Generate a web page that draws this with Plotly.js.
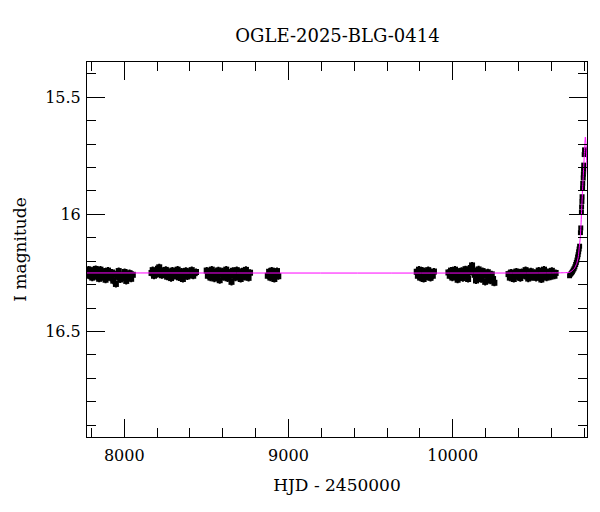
<!DOCTYPE html>
<html>
<head>
<meta charset="utf-8">
<script src="https://cdn.plot.ly/plotly-3.0.1.min.js"></script>
<style>html,body{margin:0;padding:0;background:#fff;} #chart{width:600px;height:512px;}</style>
</head>
<body>
<div id="chart"></div>
<script>
// ---- data (HJD - 2450000, I magnitude) ----
const s1_t = [7776,7782,7786,7792,7799,7805,7812,7818,7826,7833,7840,7847,7855,7862,7870,7878,7886,7893,7901,7909,7917,7925,7933,7941,7949,7957,7966,7975,7984,7993,8002,8012,8022,8032,8042,8052];
const s1_m = [16.250,16.236,16.262,16.238,16.255,16.270,16.242,16.258,16.233,16.266,16.249,16.275,16.236,16.257,16.268,16.244,16.279,16.252,16.240,16.263,16.271,16.248,16.283,16.255,16.297,16.266,16.242,16.278,16.259,16.270,16.246,16.284,16.262,16.251,16.275,16.258];
const s2_t = [8166,8173,8181,8189,8197,8205,8213,8221,8229,8237,8245,8253,8261,8269,8277,8285,8293,8301,8309,8317,8325,8333,8341,8349,8357,8366,8375,8384,8393,8402,8411,8420,8429,8437];
const s2_m = [16.250,16.238,16.262,16.244,16.256,16.232,16.226,16.248,16.260,16.241,16.253,16.237,16.266,16.245,16.258,16.272,16.240,16.255,16.263,16.247,16.236,16.269,16.252,16.244,16.276,16.258,16.241,16.265,16.249,16.256,16.238,16.262,16.251,16.246];
const s3_t = [8502,8509,8517,8525,8533,8541,8549,8557,8565,8573,8581,8589,8597,8605,8613,8621,8629,8637,8645,8653,8661,8669,8677,8685,8693,8701,8709,8717,8725,8733,8741,8749,8757,8766];
const s3_m = [16.240,16.262,16.248,16.270,16.236,16.258,16.274,16.245,16.266,16.239,16.281,16.252,16.243,16.268,16.255,16.236,16.273,16.248,16.262,16.288,16.241,16.257,16.270,16.238,16.264,16.250,16.276,16.243,16.259,16.267,16.237,16.255,16.271,16.249];
const s4_t = [8874,8882,8890,8898,8906,8914,8922,8930,8938];
const s4_m = [16.262,16.245,16.270,16.240,16.258,16.276,16.250,16.242,16.264];
const s5_t = [9781,9788,9795,9802,9809,9816,9823,9830,9837,9844,9851,9858,9865,9872,9879,9886];
const s5_m = [16.245,16.262,16.236,16.270,16.253,16.240,16.276,16.258,16.246,16.266,16.238,16.259,16.271,16.249,16.262,16.244];
const s6_t = [9974,9982,9990,9998,10006,10014,10022,10030,10038,10046,10054,10062,10070,10078,10086,10094,10102,10110,10118,10126,10134,10142,10150,10158,10166,10174,10182,10190,10198,10206,10214,10222,10230,10238,10246,10254];
const s6_m = [16.248,16.262,16.240,16.270,16.253,16.236,16.266,16.279,16.245,16.258,16.241,16.272,16.250,16.234,16.262,16.276,16.248,16.229,16.218,16.240,16.258,16.282,16.246,16.235,16.264,16.277,16.242,16.255,16.288,16.262,16.247,16.270,16.283,16.256,16.276,16.292];
const s7_t = [10340,10348,10356,10364,10372,10380,10388,10396,10404,10412,10420,10428,10436,10444,10452,10460,10468,10476,10484,10492,10500,10508,10516,10524,10532,10540,10548,10556,10564,10572,10580,10588,10596,10604,10612,10620,10627];
const s7_m = [16.255,16.270,16.248,16.262,16.276,16.252,16.244,16.266,16.258,16.272,16.246,16.260,16.250,16.238,16.265,16.274,16.252,16.243,16.268,16.257,16.249,16.271,16.262,16.240,16.256,16.278,16.250,16.236,16.262,16.270,16.246,16.258,16.266,16.241,16.255,16.262,16.250];
const s8_t = [10712,10718,10724,10729,10734,10739,10744,10749,10753,10757,10761,10764,10767,10770,10773,10778,10780,10784,10785,10787,10788,10791,10792,10795,10796,10797,10798,10801,10803];
const s8_m = [16.262,16.255,16.250,16.245,16.238,16.232,16.224,16.214,16.205,16.195,16.182,16.172,16.160,16.148,16.136,16.078,16.058,15.990,15.968,15.945,15.925,15.888,15.868,15.845,15.828,15.808,15.790,15.745,15.725];
const err_base = 0.012;
const err_rise = 0.006;

// model light curve
const model_t = [7773,10600,10680,10714,10740,10755,10765,10771,10777,10781,10786,10792,10797,10800,10804,10808,10812,10816,10820];
const model_m = [16.250,16.250,16.249,16.247,16.232,16.210,16.180,16.140,16.100,16.050,15.970,15.880,15.810,15.770,15.710,15.670,15.700,15.770,15.830];

const xTickVals = [8000, 9000, 10000];
const yTickVals = [15.5, 16, 16.5];
const yTickText = ['15.5', '16', '16.5'];

// ---- build traces ----
const allT = [].concat(s1_t, s2_t, s3_t, s4_t, s5_t, s6_t, s7_t);
const allM = [].concat(s1_m, s2_m, s3_m, s4_m, s5_m, s6_m, s7_m);

const dataTrace = {
  x: allT, y: allM, type: 'scatter', mode: 'markers',
  marker: {symbol: 'square', size: 6, color: '#000'},
  error_y: {type: 'constant', value: err_base, color: '#000', thickness: 1.5, width: 1},
  hoverinfo: 'skip', showlegend: false
};
const riseTrace = {
  x: s8_t, y: s8_m, type: 'scatter', mode: 'markers',
  marker: {symbol: 'square', size: 5, color: '#000'},
  error_y: {type: 'constant', value: err_rise, color: '#000', thickness: 1, width: 1},
  hoverinfo: 'skip', showlegend: false
};
const modelTrace = {
  x: model_t, y: model_m, type: 'scatter', mode: 'lines',
  line: {color: '#ff00ff', width: 1, shape: 'spline', smoothing: 0.6},
  hoverinfo: 'skip', showlegend: false
};

const fam = 'DejaVu Serif, Liberation Serif, serif';
const tickFont = {family: fam, size: 16, color: '#000'};
const axFont = {family: fam, size: 17, color: '#000'};
const titleFont = {family: fam, size: 18, color: '#000'};

const layout = {
  width: 600, height: 512,
  margin: {l: 87, r: 13, t: 62, b: 75},
  paper_bgcolor: '#fff', plot_bgcolor: '#fff',
  font: tickFont,
  title: {text: 'OGLE-2025-BLG-0414', font: titleFont, x: 0.5625, xanchor: 'center', y: 0.93, yanchor: 'middle'},
  xaxis: {
    range: [7773, 10818], showgrid: false, zeroline: false,
    showline: true, linecolor: '#000', linewidth: 1, mirror: 'ticks',
    ticks: 'inside', ticklen: 18, tickwidth: 1, tickcolor: '#000',
    tickvals: xTickVals, ticktext: xTickVals.map(String),
    ticklabelstandoff: 4,
    minor: {dtick: 200, tick0: 0, ticks: 'inside', ticklen: 9, tickwidth: 1, tickcolor: '#000'},
    tickfont: tickFont,
    title: {text: 'HJD - 2450000', font: axFont, standoff: 14}
  },
  yaxis: {
    range: [16.95, 15.35], showgrid: false, zeroline: false,
    showline: true, linecolor: '#000', linewidth: 1, mirror: 'ticks',
    ticks: 'inside', ticklen: 18, tickwidth: 1, tickcolor: '#000',
    tickvals: yTickVals, ticktext: yTickText,
    ticklabelstandoff: 2,
    minor: {dtick: 0.1, tick0: 0, ticks: 'inside', ticklen: 9, tickwidth: 1, tickcolor: '#000'},
    tickfont: tickFont,
    title: {text: 'I magnitude', font: axFont, standoff: 14}
  }
};

Plotly.newPlot('chart', [dataTrace, riseTrace, modelTrace], layout, {staticPlot: true, displayModeBar: false});
</script>
</body>
</html>
